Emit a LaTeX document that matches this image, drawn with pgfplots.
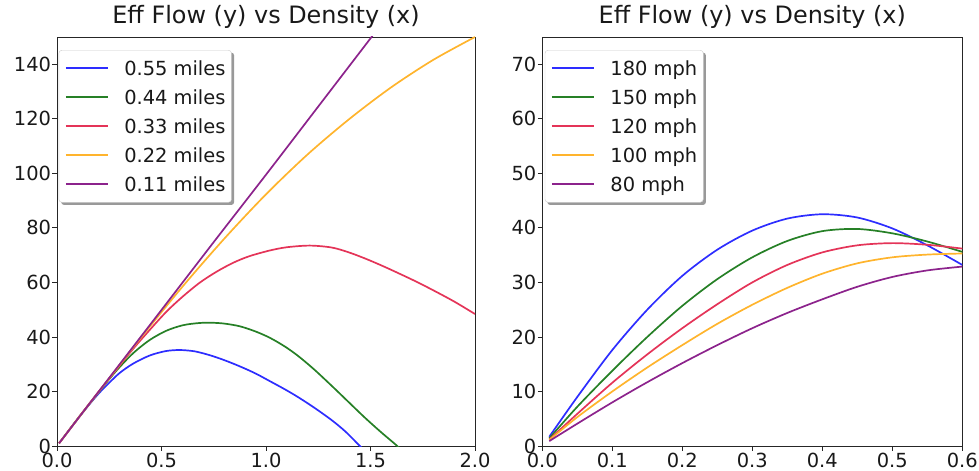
\documentclass[border=0pt]{standalone}
\usepackage{fontspec}
\setmainfont{DejaVu Sans}
\usepackage{pgfplots}
\pgfplotsset{compat=1.18}
\pgfdeclarelayer{background}
\pgfsetlayers{background,main}
\definecolor{cblue}{RGB}{45,45,255}
\definecolor{cgreen}{RGB}{38,128,38}
\definecolor{cred}{RGB}{228,52,88}
\definecolor{corange}{RGB}{255,180,45}
\definecolor{cpurple}{RGB}{140,35,140}
\pgfplotsset{
  myax/.style={
    scale only axis, height=409bp,
    axis line style={black!85, line width=0.8bp},
    tick align=outside, major tick length=4.5bp,
    tick style={black!85, line width=0.8bp},
    xtick pos=left, ytick pos=left,
    /pgf/number format/assume math mode=true,
    ticklabel style={font=\fontsize{19.5}{19.5}\selectfont, text=black!90},
    xticklabel style={yshift=0.5bp},
    yticklabel style={xshift=2bp},
    title style={at={(0.5,1)}, anchor=base, yshift=8bp, font=\fontsize{24}{24}\selectfont, text=black!90},
    title={Eff Flow (y) vs Density (x)},
    legend image code/.code={\draw[##1, line width=1.9bp] (0bp,0bp) -- (42bp,0bp);},
    legend style={anchor=north west, draw=black!20, fill=white, rounded corners=3bp,
      font=\fontsize{19.5}{19.5}\selectfont, text=black!90,
      inner xsep=6bp, inner ysep=3.5bp, column sep=15.5bp, row sep=0bp,
      nodes={inner xsep=0bp, inner ysep=7.5bp, text height=14bp, text depth=0bp}},
    legend cell align=left,
    every axis plot/.append style={line width=1.7bp, smooth, no markers},
  }
}
\begin{document}
\begin{tikzpicture}
\begin{axis}[myax, at={(57bp,25bp)}, anchor=south west, width=418bp,
  xmin=0, xmax=2, ymin=0, ymax=150,
  xtick={0,0.5,1,1.5,2}, ytick={0,20,40,60,80,100,120,140},
  xticklabel style={/pgf/number format/.cd, fixed, fixed zerofill, precision=1},
  legend style={at={(0.004,0.968)}, name=legL}]
\addplot[cblue] coordinates {(0.01,1.0) (0.1,10.0) (0.15,14.8) (0.2,19.3) (0.25,23.2) (0.3,26.8) (0.364,30.2) (0.444,33.2) (0.52,34.8) (0.588,35.2) (0.66,34.7) (0.731,33.3) (0.80,31.5) (0.875,29.2) (0.95,26.6) (1.018,23.8) (1.09,20.8) (1.154,17.9) (1.23,14.1) (1.314,9.5) (1.38,5.3) (1.449,0) (1.5,-4)};
\addlegendentry{0.55 miles\hspace{9bp}}
\addplot[cgreen] coordinates {(0.01,1) (0.1,10.1) (0.2,19.8) (0.284,27.6) (0.364,34.0) (0.444,38.9) (0.524,42.3) (0.603,44.3) (0.68,45.1) (0.74,45.2) (0.80,44.9) (0.875,43.9) (0.95,42.0) (1.018,39.7) (1.09,36.5) (1.154,33.0) (1.23,28.1) (1.314,22.1) (1.39,16.5) (1.473,10.4) (1.55,5.1) (1.628,0) (1.66,-2.5)};
\addlegendentry{0.44 miles\hspace{9bp}}
\addplot[cred] coordinates {(0.01,1) (0.1,10.1) (0.2,20.0) (0.284,28.0) (0.364,35.6) (0.444,42.6) (0.524,49.3) (0.6,54.7) (0.683,59.9) (0.763,63.9) (0.843,67.2) (0.92,69.6) (1.018,71.7) (1.1,72.9) (1.21,73.5) (1.314,72.8) (1.393,71.1) (1.473,68.8) (1.553,66.2) (1.633,63.4) (1.713,60.5) (1.793,57.4) (1.9,53.0) (2.0,48.4)};
\addlegendentry{0.33 miles\hspace{9bp}}
\addplot[corange] coordinates {(0.01,1.0) (0.2,19.9) (0.4,39.6) (0.6,58.4) (0.8,76.0) (1.0,92.3) (1.2,107.0) (1.4,120.0) (1.6,131.6) (1.8,141.6) (2.0,150)};
\addlegendentry{0.22 miles\hspace{9bp}}
\addplot[cpurple] coordinates {(0.01,1.0) (0.25,25.0) (0.5,49.9) (0.75,74.8) (1.0,99.5) (1.25,124.5) (1.55,154.5)};
\addlegendentry{0.11 miles\hspace{9bp}}
\end{axis}
\begin{pgfonlayer}{background}
\fill[black, opacity=0.4, rounded corners=3bp] ([xshift=2.5bp,yshift=-2.5bp]legL.south west) rectangle ([xshift=2.5bp,yshift=-2.5bp]legL.north east);
\end{pgfonlayer}
\begin{axis}[myax, at={(542.3bp,25bp)}, anchor=south west, width=420bp,
  xmin=0, xmax=0.6, ymin=0, ymax=75,
  xtick={0,0.1,0.2,0.3,0.4,0.5,0.6}, ytick={0,10,20,30,40,50,60,70},
  xticklabel style={/pgf/number format/.cd, fixed, fixed zerofill, precision=1},
  legend style={at={(0.006,0.968)}, name=legR}]
\addplot[cblue] coordinates {(0.01,1.7) (0.05,9.0) (0.1,17.6) (0.15,25.0) (0.2,31.2) (0.25,36.0) (0.3,39.5) (0.35,41.7) (0.4,42.5) (0.45,41.9) (0.5,39.9) (0.55,36.8) (0.6,33.2)};
\addlegendentry{180 mph\hspace{9bp}}
\addplot[cgreen] coordinates {(0.01,1.4) (0.05,7.2) (0.1,13.8) (0.15,20.0) (0.2,25.7) (0.25,30.6) (0.3,34.6) (0.35,37.6) (0.4,39.4) (0.45,39.8) (0.5,39.0) (0.55,37.5) (0.6,35.6)};
\addlegendentry{150 mph\hspace{9bp}}
\addplot[cred] coordinates {(0.01,1.2) (0.05,5.9) (0.1,11.6) (0.15,16.8) (0.2,21.6) (0.25,26.0) (0.3,30.0) (0.35,33.2) (0.4,35.5) (0.45,36.8) (0.5,37.2) (0.55,36.9) (0.6,36.2)};
\addlegendentry{120 mph\hspace{9bp}}
\addplot[corange] coordinates {(0.01,1.1) (0.05,5.3) (0.1,10.0) (0.15,14.4) (0.2,18.5) (0.25,22.4) (0.3,25.9) (0.35,29.0) (0.4,31.6) (0.45,33.5) (0.5,34.6) (0.55,35.1) (0.6,35.3)};
\addlegendentry{100 mph\hspace{9bp}}
\addplot[cpurple] coordinates {(0.01,0.9) (0.05,4.1) (0.1,8.0) (0.15,11.7) (0.2,15.2) (0.25,18.5) (0.3,21.6) (0.35,24.4) (0.4,26.9) (0.45,29.2) (0.5,31.0) (0.55,32.2) (0.6,32.9)};
\addlegendentry{80 mph\hspace{9bp}}
\end{axis}
\begin{pgfonlayer}{background}
\fill[black, opacity=0.4, rounded corners=3bp] ([xshift=2.5bp,yshift=-2.5bp]legR.south west) rectangle ([xshift=2.5bp,yshift=-2.5bp]legR.north east);
\end{pgfonlayer}
\pgfresetboundingbox
\useasboundingbox (0bp,0bp) rectangle (979bp,471bp);
\end{tikzpicture}
\end{document}
